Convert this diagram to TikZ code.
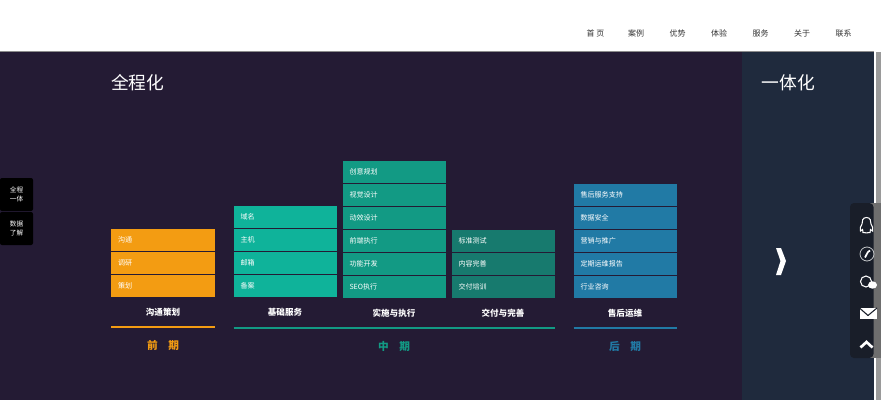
\documentclass[tikz,border=0pt]{standalone}
\usepackage{fontspec}
\setmainfont{Noto Sans CJK SC}
\definecolor{pagebg}{HTML}{241B34}
\definecolor{sidebg}{HTML}{1F2A3D}
\definecolor{orangebar}{HTML}{F39C12}
\definecolor{tealbar}{HTML}{0FB39A}
\definecolor{midbar}{HTML}{129A84}
\definecolor{deepbar}{HTML}{177A6E}
\definecolor{bluebar}{HTML}{217AA5}
\definecolor{scrollbar}{HTML}{9A9A9A}
\definecolor{scrolldark}{HTML}{6E6E6E}
\definecolor{dockbg}{HTML}{191E29}
\tikzset{
  cell/.style={minimum width=77.5pt, minimum height=16.9pt, inner sep=0pt, text=white, font=\fontsize{5.3}{7}\selectfont,
    text width=67.5pt, align=left},
  head/.style={text=white, font=\fontsize{6.4}{8}\selectfont\bfseries},
  phase/.style={font=\fontsize{8}{10}\selectfont\bfseries},
  menu/.style={text=black!80, font=\fontsize{6}{8}\selectfont},
  tab/.style={fill=black, rounded corners=1.5pt, text=white, minimum width=24.75pt, minimum height=24.75pt, inner sep=0pt,
    align=center, font=\fontsize{5}{7}\selectfont},
  title/.style={text=white, font=\fontsize{13.3}{16}\selectfont},
  icon/.style={draw=white, line width=0.8pt, fill=none}
}
\begin{document}
\begin{tikzpicture}[x=0.75pt, y=-0.75pt]
    \useasboundingbox (0,0) rectangle (882,400);
    \fill[white] (0,0) rectangle (882,400);
    \fill[pagebg] (0,52) rectangle (742,400);
    \fill[sidebg] (742,52) rectangle (873.5,400);
    \fill[black!45] (0,51) rectangle (873.5,52);
    \fill[scrollbar] (875.5,52) rectangle (880.5,400);
    % menu
    \node[menu] (home) at (595.5,33.5) {首 页};
    \node[menu] (cases) at (636,33.5) {案例};
    \node[menu] (merit) at (677.5,33.5) {优势};
    \node[menu] (trial) at (719,33.5) {体验};
    \node[menu] (serve) at (760.5,33.5) {服务};
    \node[menu] (about) at (802,33.5) {关于};
    \node[menu] (contact) at (843.5,33.5) {联系};
    \node[title] (whole) at (137.8,83) {全程化};
    \node[title] (unity) at (788.5,83) {一体化};
    % left tabs
    \node[tab] (tabA) at (16.5,194.5) {全程\\一体};
    \node[tab] (tabB) at (16.5,228.5) {数据\\了解};
    % first column
    \node[cell, fill=orangebar] (a1) at (163,240) {沟通};
    \node[cell, fill=orangebar] (a2) at (163,263) {调研};
    \node[cell, fill=orangebar] (a3) at (163,286) {策划};
    % second column
    \node[cell, fill=tealbar] (b1) at (285.5,217) {域名};
    \node[cell, fill=tealbar] (b2) at (285.5,240) {主机};
    \node[cell, fill=tealbar] (b3) at (285.5,263) {邮箱};
    \node[cell, fill=tealbar] (b4) at (285.5,286) {备案};
    % third column
    \node[cell, fill=midbar] (c1) at (394.5,172) {创意规划};
    \node[cell, fill=midbar] (c2) at (394.5,195) {视觉设计};
    \node[cell, fill=midbar] (c3) at (394.5,218) {动效设计};
    \node[cell, fill=midbar] (c4) at (394.5,241) {前端执行};
    \node[cell, fill=midbar] (c5) at (394.5,264) {功能开发};
    \node[cell, fill=midbar] (c6) at (394.5,287) {SEO执行};
    % fourth column
    \node[cell, fill=deepbar] (d1) at (503.5,241) {标准测试};
    \node[cell, fill=deepbar] (d2) at (503.5,264) {内容完善};
    \node[cell, fill=deepbar] (d3) at (503.5,287) {交付培训};
    % fifth column
    \node[cell, fill=bluebar] (e1) at (625.5,195) {售后服务支持};
    \node[cell, fill=bluebar] (e2) at (625.5,218) {数据安全};
    \node[cell, fill=bluebar] (e3) at (625.5,241) {营销与推广};
    \node[cell, fill=bluebar] (e4) at (625.5,264) {定期运维报告};
    \node[cell, fill=bluebar] (e5) at (625.5,287) {行业咨询};
    % headings
    \node[head] (plan) at (163,312) {沟通策划};
    \node[head] (base) at (285,312) {基础服务};
    \node[head] (make) at (394,313) {实施与执行};
    \node[head] (give) at (503,313) {交付与完善};
    \node[head] (after) at (625,313) {售后运维};
    \draw[orangebar, line width=0.9pt] (a3.west |- 0,327) -- (a3.east |- 0,327);
    \draw[midbar, line width=0.9pt] (b4.west |- 0,328) -- (d3.east |- 0,328);
    \draw[bluebar, line width=0.9pt] (e5.west |- 0,328) -- (e5.east |- 0,328);
    \node[phase, text=orangebar] (early) at (163,345) {前\hspace{1em}期};
    \node[phase, text=midbar] (middle) at (394,346.5) {中\hspace{1em}期};
    \node[phase, text=bluebar] (late) at (625,346.5) {后\hspace{1em}期};
    % arrow on the side panel
    \fill[white] (776,248) -- (781,248) -- (786,261) -- (781,275) -- (776,275) -- (780.5,261) -- cycle;
    % contact dock
    \fill[scrolldark] (870,203) rectangle (880.5,358);
    \fill[dockbg, rounded corners=3pt] (850,203) -- (873.5,203) -- (873.5,358) -- (850,358) -- cycle;
    \draw[icon] (866.5,217.5) .. controls (862.5,217.5) and (862,221) .. (862,224) .. controls (860.5,226) and (859.5,229) .. (860.5,231) .. controls (861.5,230.5) and (862,230) .. (862.5,229.5) .. controls (863,231) and (863,232.5) .. (863,232.5) .. controls (865,233) and (868,233) .. (870,232.5) .. controls (870.5,231.5) and (870.5,230.5) .. (870.5,229.5) .. controls (871,230) and (871.5,230.5) .. (872.5,231) .. controls (873.5,229) and (872.5,226) .. (871,224) .. controls (871,221) and (870.5,217.5) .. (866.5,217.5) -- cycle;
    \draw[draw=white!75!dockbg, line width=0.6pt] (867,254) circle (7);
    \draw[white, line width=1.3pt] (870,250.5) .. controls (866.5,252) and (867,255.5) .. (865,257.5);
    \draw[icon] (866,281.5) circle (5.5);
    \fill[white] (872.5,285) ellipse (4.5 and 3.7);
    \fill[white] (859.5,307.5) rectangle (877,319);
    \draw[dockbg, line width=0.8pt] (859.5,308) -- (868,315.5) -- (877,308);
    \draw[white, line width=2pt] (860.5,347.5) -- (866.5,342) -- (872.5,347.5);
\end{tikzpicture}
\end{document}
